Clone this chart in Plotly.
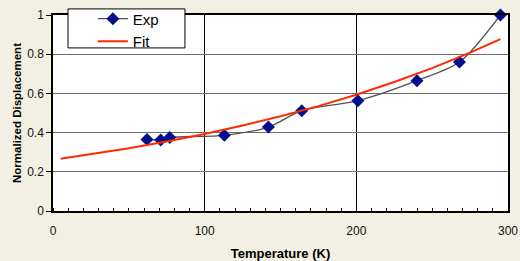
import plotly.graph_objects as go

# Experimental data (Temperature K, normalized displacement)
exp_T = [62, 71, 77, 113, 142, 164, 201, 240, 268, 295]
exp_D = [0.365, 0.362, 0.375, 0.386, 0.428, 0.512, 0.563, 0.665, 0.760, 1.0]

# Fit curve points
fit_T = [5, 25, 50, 75, 100, 125, 150, 175, 200, 225, 250, 275, 295]
fit_D = [0.266, 0.289, 0.320, 0.355, 0.393, 0.436, 0.483, 0.535, 0.593, 0.658, 0.729, 0.808, 0.877]

x_ticks = [0, 100, 200, 300]
y_ticks = [0, 0.2, 0.4, 0.6, 0.8, 1]
y_tick_text = ["0", "0.2", "0.4", "0.6", "0.8", "1"]

fig = go.Figure()
fig.add_trace(go.Scatter(
    x=exp_T, y=exp_D, name="Exp", mode="lines+markers", cliponaxis=False,
    line=dict(color="#505050", width=1.3, shape="spline", smoothing=0.8),
    marker=dict(symbol="diamond", size=10, color="#00108C"),
))
fig.add_trace(go.Scatter(
    x=fit_T, y=fit_D, name="Fit", mode="lines",
    line=dict(color="#FF2A00", width=2),
))

fig.update_layout(
    width=520, height=261,
    margin=dict(l=53, r=12, t=15, b=50, autoexpand=False),
    paper_bgcolor="#F1F0E3",
    plot_bgcolor="white",
    font=dict(family="Arial, Liberation Sans", size=12, color="#111111"),
    showlegend=True,
    legend=dict(
        x=0.0876, y=1.064, xanchor="left", yanchor="top",
        bgcolor="rgba(0,0,0,0)", borderwidth=0,
        font=dict(size=15, color="black"),
        tracegroupgap=0, itemwidth=30,
    ),
    shapes=[dict(
        type="rect", xref="paper", yref="paper",
        x0=0.033, x1=0.290, y0=0.832, y1=1.031,
        fillcolor="white", line=dict(color="black", width=1), layer="above",
    )],
)
fig.update_xaxes(
    range=[0, 300], tickvals=x_ticks, ticktext=[str(v) for v in x_ticks],
    showgrid=True, gridcolor="black", gridwidth=1,
    showline=True, linecolor="black", linewidth=1.5, mirror=True,
    ticks="", zeroline=False, automargin=False,
    minor=dict(dtick=10, ticks="inside", ticklen=3, tickcolor="black", showgrid=False),
    title=dict(text="<b>Temperature (K)</b>", font=dict(size=13, color="black"), standoff=13),
    ticklabelstandoff=8,
)
fig.update_yaxes(
    range=[0, 1], tickvals=y_ticks, ticktext=y_tick_text,
    showgrid=True, gridcolor="#6E6E6E", gridwidth=1,
    showline=True, linecolor="black", linewidth=1.5, mirror=True,
    ticks="outside", ticklen=5, tickcolor="black", zeroline=False, automargin=False,
    title=dict(text="<b>Normalized Displacement</b>", font=dict(size=11.5, color="black"), standoff=3),
)

fig.write_html(
    "out.html",
    config={"displayModeBar": False},
    post_script="document.body.style.margin='0';document.body.style.overflow='hidden';",
)
